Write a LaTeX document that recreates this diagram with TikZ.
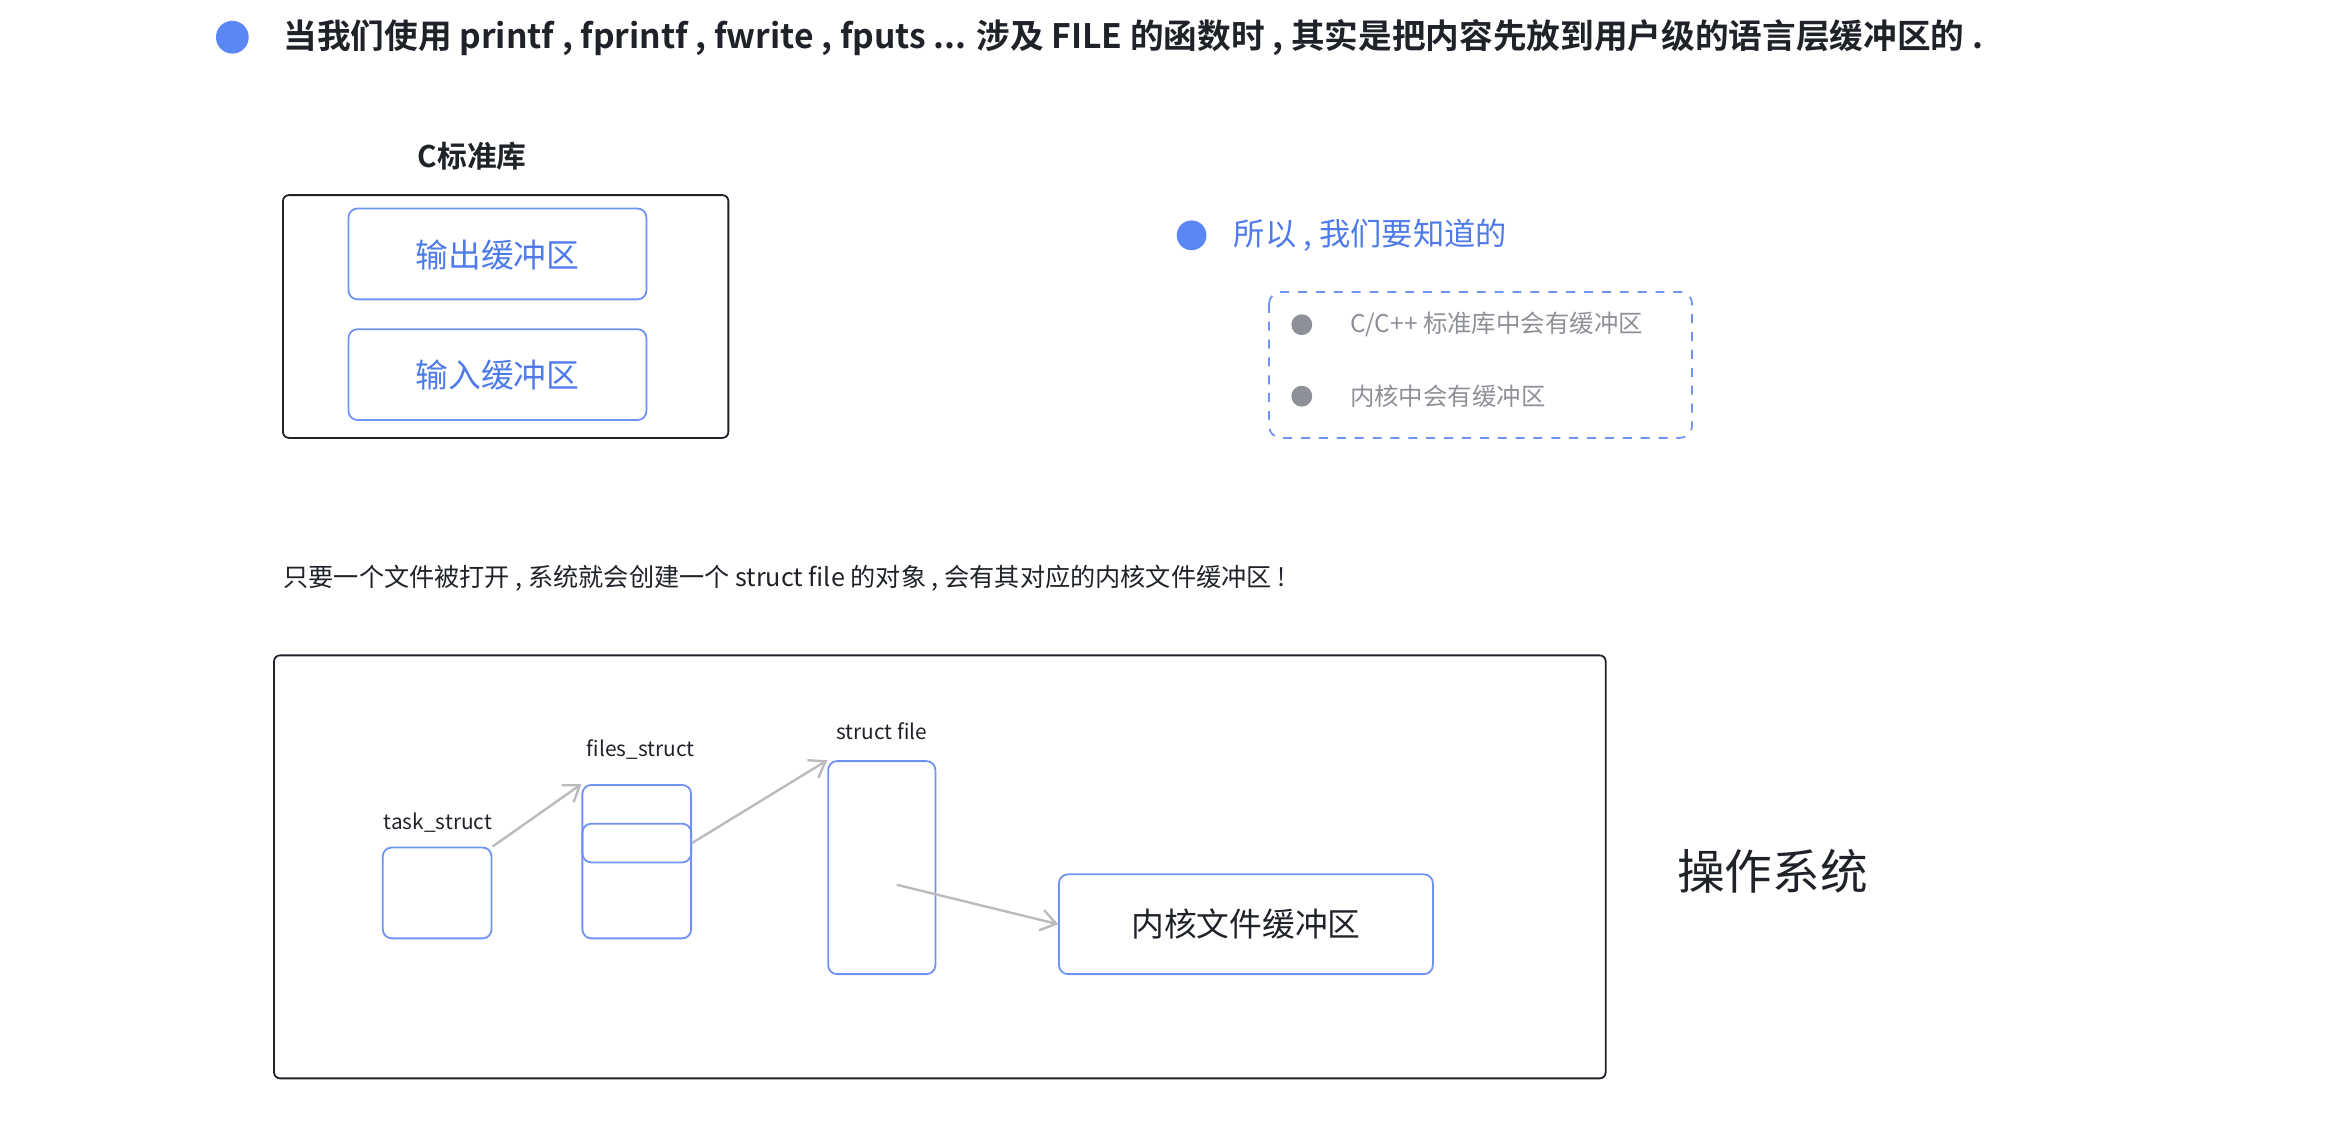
\documentclass[tikz,border=0pt]{standalone}
\usepackage{fontspec}
\setmainfont{Noto Sans CJK SC}[BoldFont=Noto Sans CJK SC Bold]
\usetikzlibrary{arrows.meta}
\definecolor{dotblue}{HTML}{5B87F4}
\definecolor{boxblue}{HTML}{6F93F2}
\definecolor{txtblue}{HTML}{4F7BEA}
\definecolor{greytxt}{HTML}{8E9097}
\definecolor{darktxt}{HTML}{1F2329}
\definecolor{arrowgrey}{HTML}{BBBBBB}
\tikzset{
  outerbox/.style={draw=darktxt, rounded corners=2pt, line width=0.6pt},
  bluebox/.style={draw=boxblue, rounded corners=3pt, line width=0.6pt},
  smalltxt/.style={font=\fontsize{7}{8}\selectfont, text=darktxt},
  link/.style={draw=arrowgrey, line width=0.8pt, -{Straight Barb[length=5pt,width=7pt]}}
}
\begin{document}
\begin{tikzpicture}[x=0.5pt, y=-0.5pt]
    \useasboundingbox (0,0) rectangle (1567,752.6);
    % title
    \fill[dotblue] (156,25) circle (11);
    \node[anchor=west, inner sep=0, font=\bfseries\fontsize{11.3}{13}\selectfont, text=darktxt] (title) at (190,25) {当我们使用 printf , fprintf , fwrite , fputs ... 涉及 FILE 的函数时 , 其实是把内容先放到用户级的语言层缓冲区的 .};
    % C library
    \node[font=\bfseries\fontsize{10}{12}\selectfont, text=darktxt] (clib) at (317,105) {C标准库};
    \draw[outerbox] (190,131) rectangle (489,294);
    \draw[bluebox] (234,140) rectangle (434,201);
    \draw[bluebox] (234,221) rectangle (434,282);
    \node[font=\fontsize{11}{12}\selectfont, text=txtblue] (outbuf) at (334,171) {输出缓冲区};
    \node[font=\fontsize{11}{12}\selectfont, text=txtblue] (inbuf) at (334,252) {输入缓冲区};
    % so we need to know
    \fill[dotblue] (800,158) circle (10);
    \node[anchor=west, inner sep=0, font=\fontsize{10.5}{12}\selectfont, text=txtblue] (know) at (828,158) {所以 , 我们要知道的};
    \draw[boxblue, dashed, rounded corners=4pt, line width=0.6pt] (852,196) rectangle (1136,294);
    \fill[greytxt] (874,218) circle (7);
    \fill[greytxt] (874,266) circle (7);
    \node[anchor=west, inner sep=0, font=\fontsize{8.2}{10}\selectfont, text=greytxt] (libbuf) at (906,218) {C/C++ 标准库中会有缓冲区};
    \node[anchor=west, inner sep=0, font=\fontsize{8.2}{10}\selectfont, text=greytxt] (kbuf) at (906,266) {内核中会有缓冲区};
    % sentence
    \node[anchor=west, inner sep=0, font=\fontsize{8.45}{10}\selectfont, text=darktxt] (note) at (190,388) {只要一个文件被打开 , 系统就会创建一个 struct file 的对象 , 会有其对应的内核文件缓冲区 !};
    % kernel
    \draw[outerbox] (184,440) rectangle (1078,724);
    \node[smalltxt] (tasklbl) at (294,552) {task\_struct};
    \node[bluebox, minimum width=36.5pt, minimum height=30.5pt] (task) at (293.5,599.5) {};
    \node[smalltxt] (fileslbl) at (430,503) {files\_struct};
    \node[bluebox, minimum width=36.5pt, minimum height=51.5pt] (files) at (427.5,578.5) {};
    \node[bluebox, minimum width=36.5pt, minimum height=13pt] (slot) at (427.5,566) {};
    \node[smalltxt] (filelbl) at (592,491) {struct file};
    \node[bluebox, minimum width=36pt, minimum height=71.5pt] (sfile) at (592,582.5) {};
    \node[bluebox, minimum width=125.5pt, minimum height=33.5pt, font=\fontsize{11}{12}\selectfont, text=darktxt] (kfile) at (836.5,620.5) {内核文件缓冲区};
    \coordinate (sfilemid) at (602,594);
    \path[link] (task.north east) -- (files.north west);
    \path[link] (slot.east) -- (sfile.north west);
    \path[link] (sfilemid) -- (kfile.west);
    \node[font=\fontsize{16}{18}\selectfont, text=darktxt] (os) at (1190,585) {操作系统};
\end{tikzpicture}
\end{document}
